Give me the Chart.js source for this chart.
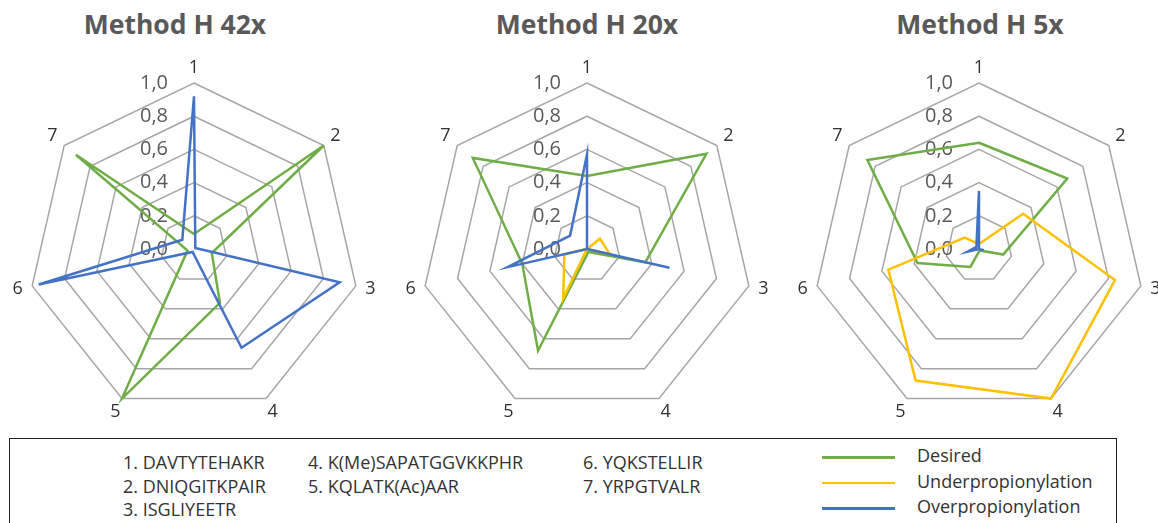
<!DOCTYPE html>
<html lang="en">
<head>
    <meta charset="UTF-8">
    <title>Method H radar charts</title>
    <script src="https://cdn.jsdelivr.net/npm/chart.js"></script>
    <style>
        html, body {
            margin: 0;
            padding: 0;
            background: #ffffff;
        }
        body {
            position: relative;
            width: 1158px;
            height: 523px;
            overflow: hidden;
            font-family: "Open Sans", "Noto Sans", sans-serif;
        }
        .chart-title {
            position: absolute;
            top: 11px;
            width: 400px;
            text-align: center;
            font-size: 26.5px;
            line-height: 1;
            font-weight: 700;
            color: #595959;
        }
        .chart-box {
            position: absolute;
            top: 49px;
            width: 390px;
            height: 400px;
        }
        .legend-box {
            position: absolute;
            left: 9px;
            top: 438px;
            width: 1108px;
            height: 120px;
            box-sizing: border-box;
            border: 1.8px solid #1e1e1e;
            background: #fff;
        }
        .legend-text {
            position: absolute;
            font-size: 18px;
            color: #333333;
            white-space: nowrap;
        }
        .peptides { line-height: 23.5px; top: 12px; }
        .series { line-height: 25.5px; top: 4px; left: 907px; }
        .swatch {
            position: absolute;
            left: 812px;
            width: 73px;
            height: 2.5px;
        }
    </style>
</head>
<body>
    <div class="legend-box" id="legendBox">
        <div class="legend-text peptides" id="col1" style="left: 113px;"></div>
        <div class="legend-text peptides" id="col2" style="left: 298px;"></div>
        <div class="legend-text peptides" id="col3" style="left: 573px;"></div>
        <div class="legend-text series" id="seriesNames"></div>
    </div>

    <div class="chart-title" id="title0" style="left: -25px;"></div>
    <div class="chart-title" id="title1" style="left: 387px;"></div>
    <div class="chart-title" id="title2" style="left: 780px;"></div>

    <div class="chart-box" style="left: -1px;"><canvas id="radar0" width="390" height="400"></canvas></div>
    <div class="chart-box" style="left: 392px;"><canvas id="radar1" width="390" height="400"></canvas></div>
    <div class="chart-box" style="left: 784px;"><canvas id="radar2" width="390" height="400"></canvas></div>

<script>
    // axis labels and tick labels
    const pointLabels = ['1', '2', '3', '4', '5', '6', '7'];
    const tickLabels = ['0,0', '0,2', '0,4', '0,6', '0,8', '1,0'];
    const titles = ['Method H 42x', 'Method H 20x', 'Method H 5x'];
    const peptides = ['DAVTYTEHAKR', 'DNIQGITKPAIR', 'ISGLIYEETR', 'K(Me)SAPATGGVKKPHR',
                      'KQLATK(Ac)AAR', 'YQKSTELLIR', 'YRPGTVALR'];
    const seriesNames = ['Desired', 'Underpropionylation', 'Overpropionylation'];
    const seriesColors = ['#70AD47', '#FFC000', '#4472C4'];

    // values (fraction 0..1)
    const desired42 = [0.09, 1.00, 0.11, 0.36, 1.00, 0.04, 0.91];
    const under42   = [0, 0, 0, 0, 0, 0, 0];
    const over42    = [0.92, 0.01, 0.90, 0.66, 0.02, 0.96, 0.09];

    const desired20 = [0.44, 0.92, 0.36, 0.02, 0.68, 0.40, 0.88];
    const under20   = [0.00, 0.10, 0.14, 0.00, 0.33, 0.14, 0.00];
    const over20    = [0.57, 0.00, 0.51, 0.00, 0.00, 0.49, 0.13];

    const desired5  = [0.64, 0.68, 0.15, 0.01, 0.12, 0.38, 0.86];
    const under5    = [0.03, 0.34, 0.84, 1.00, 0.88, 0.56, 0.11];
    const over5     = [0.35, 0.00, 0.03, 0.00, 0.00, 0.07, 0.02];

    const chartSeries = [
        [desired42, under42, over42],
        [desired20, under20, over20],
        [desired5, under5, over5]
    ];

    // tick labels sit left of the vertical axis, point labels just outside the rim
    const radarText = {
        id: 'radarText',
        beforeDatasetsDraw(chart) {
            const r = chart.scales.r;
            const ctx = chart.ctx;
            ctx.save();
            ctx.font = '20px "Open Sans"';
            ctx.fillStyle = '#595959';
            ctx.textAlign = 'right';
            ctx.textBaseline = 'middle';
            r.ticks.forEach(t => {
                const d = r.getDistanceFromCenterForValue(t.value);
                ctx.fillText(t.label, r.xCenter - 26, r.yCenter - d);
            });
            ctx.font = '18px "Open Sans"';
            ctx.fillStyle = '#333333';
            ctx.textAlign = 'center';
            chart.data.labels.forEach((lab, i) => {
                const p = r.getPointPosition(i, r.drawingArea + 15);
                ctx.fillText(lab, p.x, p.y);
            });
            ctx.restore();
        }
    };

    chartSeries.forEach((series, c) => {
        document.getElementById('title' + c).textContent = titles[c];
        const ctx = document.getElementById('radar' + c).getContext('2d');
        new Chart(ctx, {
            type: 'radar',
            data: {
                labels: pointLabels,
                datasets: series.map((values, s) => ({
                    label: seriesNames[s],
                    data: values,
                    borderColor: seriesColors[s],
                    backgroundColor: seriesColors[s],
                    borderWidth: 2.5,
                    pointRadius: 0,
                    pointHoverRadius: 0,
                    fill: false,
                    tension: 0,
                    order: 3 - s
                }))
            },
            options: {
                responsive: false,
                animation: false,
                devicePixelRatio: 1,
                layout: { padding: { left: 29, right: 29, top: 34, bottom: 34 } },
                plugins: {
                    legend: { display: false },
                    tooltip: { enabled: false }
                },
                scales: {
                    r: {
                        min: 0,
                        max: 1,
                        angleLines: { display: false },
                        grid: { color: '#A6A6A6', lineWidth: 1.5 },
                        pointLabels: { display: false },
                        ticks: {
                            display: false,
                            stepSize: 0.2,
                            callback: (v, i) => tickLabels[i]
                        }
                    }
                }
            },
            plugins: [radarText]
        });
    });

    // legend box: numbered peptide list and series swatches
    const cols = [document.getElementById('col1'), document.getElementById('col2'), document.getElementById('col3')];
    const perCol = [3, 2, 2];
    let k = 0;
    perCol.forEach((n, c) => {
        for (let j = 0; j < n; j++, k++) {
            const line = document.createElement('div');
            line.textContent = (k + 1) + '. ' + peptides[k];
            cols[c].appendChild(line);
        }
    });
    const names = document.getElementById('seriesNames');
    const box = document.getElementById('legendBox');
    seriesNames.forEach((name, s) => {
        const line = document.createElement('div');
        line.textContent = name;
        names.appendChild(line);
        const sw = document.createElement('div');
        sw.className = 'swatch';
        sw.style.background = seriesColors[s];
        sw.style.top = (17 + s * 25.5) + 'px';
        box.appendChild(sw);
    });
</script>
</body>
</html>
